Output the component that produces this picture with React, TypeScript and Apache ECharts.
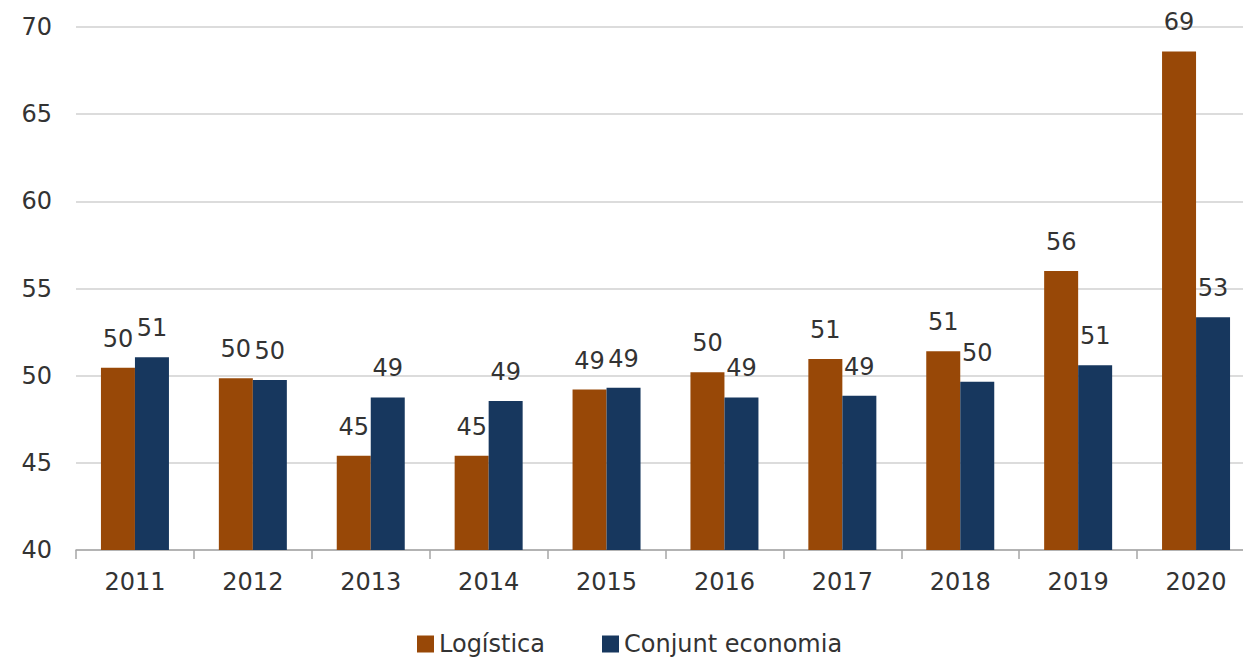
import React, { useEffect, useRef } from "react";
import * as echarts from "echarts";

const years = ["2011", "2012", "2013", "2014", "2015", "2016", "2017", "2018", "2019", "2020"];
const logistica = [50.45, 49.85, 45.4, 45.4, 49.2, 50.2, 50.95, 51.4, 56.0, 68.6];
const conjunt = [51.05, 49.75, 48.75, 48.55, 49.3, 48.75, 48.85, 49.65, 50.6, 53.35];
const seriesNames = ["Logística", "Conjunt economia"];
const colors = ["#984807", "#17375E"];

const FONT = "DejaVu Sans";

export default function App() {
  const ref = useRef<HTMLDivElement>(null);
  useEffect(() => {
    if (!ref.current) return;
    const chart = echarts.init(ref.current, undefined, { renderer: "svg" });
    const label = {
      show: true,
      position: "top" as const,
      distance: 17,
      fontFamily: FONT,
      fontSize: 24,
      color: "#333",
      formatter: (p: any) => String(Math.round(p.value)),
    };
    chart.setOption({
      animation: false,
      textStyle: { fontFamily: FONT },
      grid: { left: 76, top: 27, right: 0, bottom: 110 },
      legend: {
        top: 627,
        left: 412,
        itemWidth: 17,
        itemHeight: 17,
        itemGap: 57,
        icon: "rect",
        textStyle: { fontFamily: FONT, fontSize: 24, color: "#333" },
        data: seriesNames,
      },
      xAxis: {
        type: "category",
        data: years,
        axisLine: { lineStyle: { color: "#a6a6a6", width: 1.5 } },
        axisTick: { show: true, length: 9, lineStyle: { color: "#a6a6a6", width: 1.5 } },
        axisLabel: { fontFamily: FONT, fontSize: 24, color: "#333", margin: 20 },
      },
      yAxis: {
        type: "value",
        min: 40,
        max: 70,
        interval: 5,
        axisLine: { show: false },
        axisTick: { show: false },
        splitLine: { lineStyle: { color: "#d0d0d0", width: 1.5 } },
        axisLabel: { fontFamily: FONT, fontSize: 24, color: "#333", margin: 24 },
      },
      series: [
        {
          name: seriesNames[0],
          type: "bar",
          data: logistica,
          barWidth: 34,
          barGap: "0%",
          itemStyle: { color: colors[0] },
          label,
        },
        {
          name: seriesNames[1],
          type: "bar",
          data: conjunt,
          barWidth: 34,
          barGap: "0%",
          itemStyle: { color: colors[1] },
          label,
        },
      ],
    });
    return () => chart.dispose();
  }, []);
  return (
    <div
      ref={ref}
      style={{ position: "fixed", left: 0, top: 0, width: 1255, height: 660, background: "#fff" }}
    />
  );
}
